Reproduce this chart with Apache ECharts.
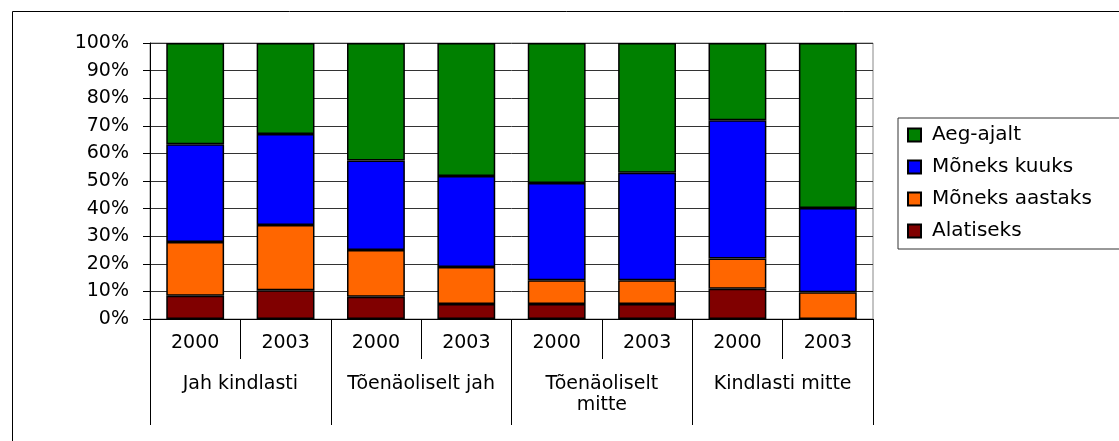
<!DOCTYPE html>
<html>
<head>
<meta charset="utf-8">
<script src="https://cdn.jsdelivr.net/npm/echarts@6/dist/echarts.min.js"></script>
<style>
html,body{margin:0;padding:0;background:#fff;}
#c{width:1119px;height:441px;}
</style>
</head>
<body>
<div id="c"></div>
<script>
var years = ['2000','2003','2000','2003','2000','2003','2000','2003'];
var groups = ['Jah kindlasti','Tõenäoliselt jah','Tõenäoliselt mitte','Kindlasti mitte'];
var yTicks = [0,10,20,30,40,50,60,70,80,90,100];
var alatiseks = [8.4, 10.4, 8.1, 5.4, 5.4, 5.4, 11.0, 0];
var moneksAastaks = [19.5, 23.7, 16.9, 13.4, 8.6, 8.6, 10.9, 9.7];
var moneksKuuks = [35.4, 32.9, 32.4, 33.0, 35.3, 39.0, 50.1, 30.5];
var aegAjalt = [36.7, 33.0, 42.6, 48.2, 50.7, 47.0, 28.0, 59.8];
var seriesNames = ['Alatiseks','Mõneks aastaks','Mõneks kuuks','Aeg-ajalt'];
var seriesColors = ['#800000','#FF6600','#0000FF','#008000'];
var seriesData = [alatiseks, moneksAastaks, moneksKuuks, aegAjalt];

var FONT = 'DejaVu Sans';
var chart = echarts.init(document.getElementById('c'), null, {renderer:'canvas'});
var option = {
  animation: false,
  backgroundColor: '#fff',
  textStyle: {fontFamily: FONT},
  graphic: [{
    type: 'rect', left: 10, top: 9, z: -10,
    shape: {width: 1300, height: 600},
    style: {fill: 'none', stroke: '#000', lineWidth: 1}
  }],
  grid: {
    left: 150, right: 246, top: 43, bottom: 122,
    show: true, borderColor: '#888', borderWidth: 1, backgroundColor: 'transparent'
  },
  legend: {
    orient: 'vertical',
    left: 898, top: 118,
    padding: [7, 60, 8, 9],
    borderColor: '#333', borderWidth: 1,
    itemWidth: 13, itemHeight: 13, itemGap: 12,
    icon: 'rect',
    data: ['Aeg-ajalt','Mõneks kuuks','Mõneks aastaks','Alatiseks'],
    textStyle: {fontFamily: FONT, fontSize: 20, color: '#000', lineHeight: 20, padding: [0,0,0,6]}
  },
  xAxis: [{
    type: 'category', data: years, position: 'bottom',
    axisLine: {lineStyle: {color: '#000', width: 1}},
    axisTick: {show: true, interval: 0, length: 40, lineStyle: {color: '#000'}},
    axisLabel: {fontFamily: FONT, fontSize: 19, color: '#000', margin: 15, interval: 0}
  }, {
    type: 'category', data: groups, position: 'bottom', gridIndex: 0,
    axisLine: {show: false},
    axisTick: {show: true, interval: 0, length: 106, lineStyle: {color: '#000'}},
    axisLabel: {
      interval: 0, hideOverlap: false,
      fontFamily: FONT, fontSize: 19, color: '#000', margin: 55, lineHeight: 21,
      formatter: function (v) { return v === 'Tõenäoliselt mitte' ? 'Tõenäoliselt\nmitte' : v; }
    }
  }],
  yAxis: {
    type: 'value', min: yTicks[0], max: yTicks[yTicks.length-1], interval: 10,
    axisLine: {show: true, lineStyle: {color: '#000'}},
    axisTick: {show: true, length: 7, lineStyle: {color: '#000'}},
    axisLabel: {fontFamily: FONT, fontSize: 19, color: '#000', margin: 21, formatter: '{value}%'},
    splitLine: {show: true, lineStyle: {color: '#333', width: 1}}
  },
  series: seriesNames.map(function (n, i) {
    return {
      name: n, type: 'bar', stack: 'total', xAxisIndex: 0,
      barWidth: '64%',
      data: seriesData[i],
      itemStyle: {color: seriesColors[i], borderColor: '#000', borderWidth: 1.5}
    };
  })
};
chart.setOption(option);
</script>
</body>
</html>
